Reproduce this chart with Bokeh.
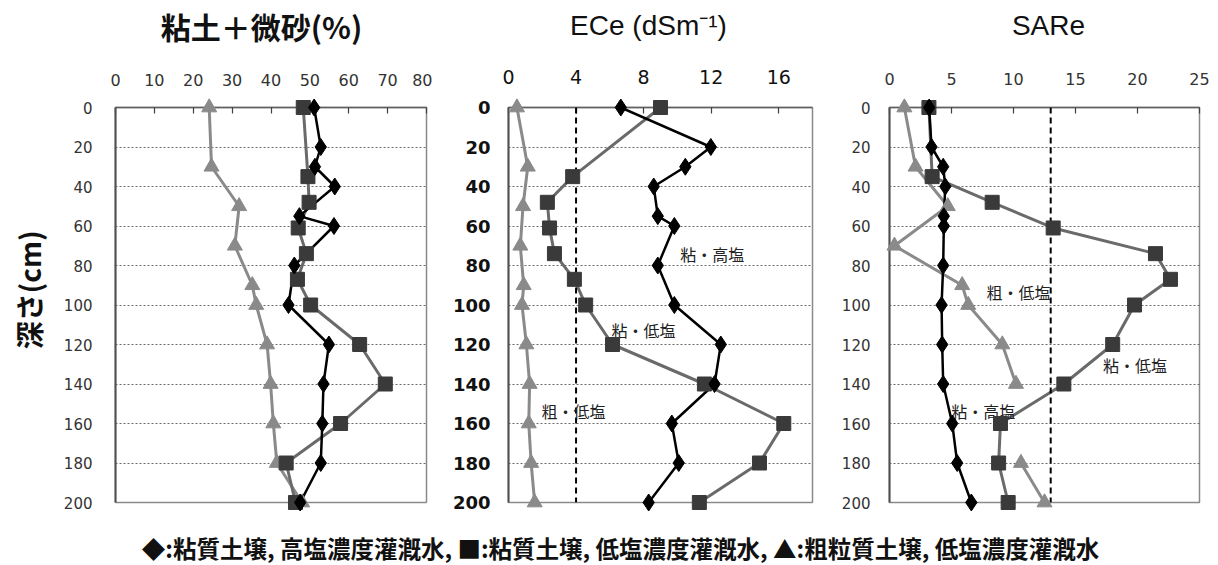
import numpy as np
from bokeh.plotting import figure
from bokeh.layouts import row, column
from bokeh.models import Range1d, FixedTicker, Span, Label, ColumnDataSource
from bokeh.core.properties import value
from bokeh.embed import file_html
from bokeh.resources import INLINE

# ---------------- data ----------------
series_names = ["粘質土壌, 高塩濃度灌漑水", "粘質土壌, 低塩濃度灌漑水", "粗粒質土壌, 低塩濃度灌漑水"]
legend_symbols = ["◆", "■", "▲"]

depth_clay_high = [0, 20, 30, 40, 55, 60, 80, 100, 120, 140, 160, 180, 200]
depth_clay_low = [0, 35, 48, 61, 74, 87, 100, 120, 140, 160, 180, 200]
depth_coarse_low = [0, 30, 50, 70, 90, 100, 120, 140, 160, 180, 200]

# 粘土＋微砂 (%)
claysilt_clay_high = [51.1, 52.8, 51.3, 56.4, 47.3, 56.2, 46.0, 44.5, 54.9, 53.5, 53.2, 52.8, 47.5]
claysilt_clay_low = [48.3, 49.5, 49.8, 47.0, 49.1, 46.8, 50.2, 62.8, 69.4, 57.9, 43.9, 46.3]
claysilt_coarse_low = [24.1, 24.7, 31.8, 30.7, 35.2, 36.2, 39.0, 39.9, 40.6, 41.5, 48.0]

# ECe (dS/m)
ece_clay_high = [6.65, 11.98, 10.47, 8.6, 8.84, 9.82, 8.84, 9.82, 12.57, 12.2, 9.67, 10.08, 8.3]
ece_clay_low = [9.0, 3.8, 2.3, 2.43, 2.72, 3.9, 4.57, 6.16, 11.6, 16.3, 14.86, 11.3]
ece_coarse_low = [0.5, 1.14, 0.86, 0.7, 0.9, 0.8, 1.06, 1.25, 1.2, 1.34, 1.55]

# SARe
sar_clay_high = [3.2, 3.39, 4.33, 4.5, 4.38, 4.38, 4.33, 4.2, 4.25, 4.33, 5.06, 5.46, 6.6]
sar_clay_low = [3.18, 3.44, 8.28, 13.2, 21.45, 22.66, 19.76, 18.0, 14.06, 8.95, 8.8, 9.57]
sar_coarse_low = [1.2, 2.1, 4.7, 0.4, 5.86, 6.35, 9.1, 10.2, float("nan"), 10.6, 12.5]

depth_ticks = [0, 20, 40, 60, 80, 100, 120, 140, 160, 180, 200]
claysilt_ticks = [0, 10, 20, 30, 40, 50, 60, 70, 80]
ece_ticks = [0, 4, 8, 12, 16]
sar_ticks = [0, 5, 10, 15, 20, 25]
ece_threshold = 4
sar_threshold = 13

titles = ["粘土＋微砂(%)", "ECe (dSm⁻¹)", "SARe"]
depth_label = "深さ(cm)"
ece_notes = [("粘・高塩", 12.06, 74), ("粘・低塩", 8.0, 112.7), ("粗・低塩", 3.85, 153.7)]
sar_notes = [("粗・低塩", 10.4, 93.3), ("粘・低塩", 19.8, 130.3), ("粘・高塩", 7.56, 153.9)]

# ---------------- styles ----------------
styles = [
    dict(marker="diamond", size=17, fill="#000000", line="#000000", lw=2.5),
    dict(marker="square", size=14, fill="#3a3a3a", line="#6a6a6a", lw=3),
    dict(marker="triangle", size=15, fill="#8a8a8a", line="#8a8a8a", lw=3),
]

TOP = 50     # height of title strip
H = 470      # height of panel row
CJK = "Noto Sans CJK JP"


def strip(width, height):
    f = figure(width=width, height=height, x_range=Range1d(0, width),
               y_range=Range1d(0, height), output_backend="svg",
               toolbar_location=None, min_border=0)
    f.axis.visible = False
    f.grid.visible = False
    f.outline_line_color = None
    return f


def make_panel(width, left, right, top, bottom, xmax, xticks, xlab_font, xlab_size,
               ylab_size, ylab_style, xstand, ystand, lab_color):
    p = figure(width=width, height=H, x_range=Range1d(0, xmax), y_range=Range1d(200, 0),
               x_axis_location="above", output_backend="svg", toolbar_location=None,
               min_border_left=left, min_border_right=right, min_border_top=top,
               min_border_bottom=bottom, background_fill_color="white",
               border_fill_color="white")
    p.outline_line_color = "#8a8a8a"
    p.outline_line_width = 1.5
    xa = p.xaxis[0]
    xa.ticker = FixedTicker(ticks=xticks)
    xa.major_tick_in = 6
    xa.major_tick_out = 0
    xa.minor_tick_in = 0
    xa.minor_tick_out = 0
    xa.axis_line_color = "#606060"
    xa.axis_line_width = 1.5
    xa.major_tick_line_color = "#404040"
    xa.major_tick_line_width = 1.2
    xa.major_label_text_font = xlab_font
    xa.major_label_text_font_size = xlab_size
    xa.major_label_text_color = lab_color
    xa.major_label_standoff = xstand
    ya = p.yaxis[0]
    ya.ticker = FixedTicker(ticks=depth_ticks)
    ya.major_tick_in = 0
    ya.major_tick_out = 0
    ya.minor_tick_in = 0
    ya.minor_tick_out = 0
    ya.axis_line_color = "#505050"
    ya.axis_line_width = 2
    ya.major_label_text_font = "DejaVu Sans"
    ya.major_label_text_font_size = ylab_size
    ya.major_label_text_font_style = ylab_style
    ya.major_label_text_color = lab_color
    ya.major_label_standoff = ystand
    p.xgrid.visible = False
    p.ygrid.ticker = FixedTicker(ticks=depth_ticks[1:-1])
    p.ygrid.grid_line_color = "#6a6a6a"
    p.ygrid.grid_line_dash = "2 2"
    p.ygrid.grid_line_width = 1
    return p


def add_series(p, values_list):
    depths = [depth_clay_high, depth_clay_low, depth_coarse_low]
    order = [2, 1, 0]
    for i in order:
        st = styles[i]
        src = ColumnDataSource(dict(x=np.array(values_list[i], dtype=float),
                                    y=np.array(depths[i], dtype=float)))
        p.line("x", "y", source=src, line_color=st["line"], line_width=st["lw"])
    for i in order:
        st = styles[i]
        src = ColumnDataSource(dict(x=np.array(values_list[i], dtype=float),
                                    y=np.array(depths[i], dtype=float)))
        r = p.scatter("x", "y", source=src, marker=st["marker"], size=st["size"],
                      fill_color=st["fill"], line_color=st["fill"])
        r.level = "overlay"


def add_notes(p, notes):
    for t, x, y in notes:
        p.add_layout(Label(x=x, y=y, text=t, text_align="center", text_baseline="middle",
                           text_font=CJK, text_font_size="16px", text_color="#222222"))


# Title strip
pt = strip(1218, TOP)
title_fonts = [(CJK, "30px", "bold"), ("Liberation Sans", "28px", "normal"),
               ("Liberation Sans", "28px", "normal")]
title_x = [261, 648, 1048]
for t, xc, (fnt, sz, sty) in zip(titles, title_x, title_fonts):
    pt.text(x=[xc], y=[TOP - 25], text=[t], text_align="center", text_baseline="middle",
            text_font=value(fnt), text_font_size=sz, text_font_style=sty,
            text_color="#111111")

# Y-label strip
YW = 50
py = strip(YW, H)
py.text(x=[28], y=[H - (267 - TOP)], text=[depth_label], angle=np.pi / 2,
        text_align="center", text_baseline="middle", text_font=value(CJK),
        text_font_size="28px", text_font_style="bold", text_color="#111111")

# Panel 1
p1 = make_panel(432 - YW, 115 - YW, 6, 106 - TOP, 18, 80, claysilt_ticks, "DejaVu Sans",
                "16px", "15px", "normal", 22, 23, "#333333")
add_series(p1, [claysilt_clay_high, claysilt_clay_low, claysilt_coarse_low])

# Panel 2
p2 = make_panel(395, 76, 15, 103 - TOP, 14, 18, ece_ticks, "DejaVu Sans", "19px",
                "18px", "bold", 24, 18, "#111111")
p2.add_layout(Span(location=ece_threshold, dimension="height", line_color="black",
                   line_width=2, line_dash="6 4"))
add_series(p2, [ece_clay_high, ece_clay_low, ece_coarse_low])
add_notes(p2, ece_notes)

# Panel 3
p3 = make_panel(391, 62, 19, 107 - TOP, 17, 25, sar_ticks, "DejaVu Sans", "16px",
                "15px", "normal", 23, 19, "#333333")
p3.add_layout(Span(location=sar_threshold, dimension="height", line_color="black",
                   line_width=2, line_dash="6 4"))
add_series(p3, [sar_clay_high, sar_clay_low, sar_coarse_low])
add_notes(p3, sar_notes)

# Legend strip
legend_text = ", ".join(f"{s}:{n}" for s, n in zip(legend_symbols, series_names))
pl = strip(1218, 45)
pl.text(x=[620], y=[18], text=[legend_text], text_align="center", text_baseline="middle",
        text_font=value(CJK), text_font_size="23.5px", text_font_style="bold",
        text_color="#111111")

layout = column(pt, row(py, p1, p2, p3, spacing=0), pl, spacing=0)
open("out.html", "w").write(file_html(layout, INLINE))
